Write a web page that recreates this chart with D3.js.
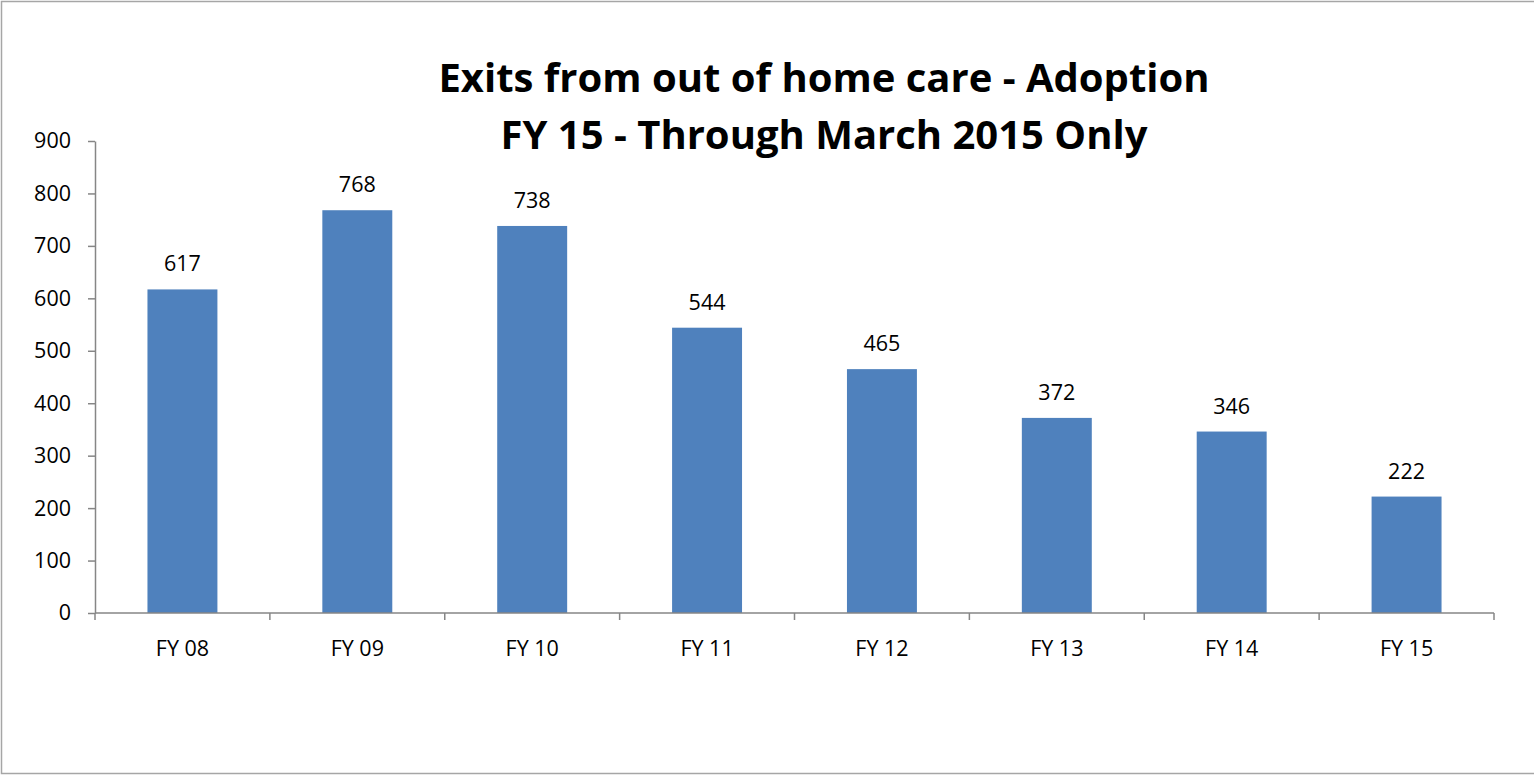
<!DOCTYPE html>
<html>
<head>
<meta charset="utf-8">
<script src="https://cdn.jsdelivr.net/npm/d3@7"></script>
<style>
  html, body { margin: 0; padding: 0; background: #fff; }
  svg text { font-family: "Open Sans", "Noto Sans", sans-serif; }
</style>
</head>
<body>
<div id="chart"></div>
<script>
// 数据
const categories = ["FY 08", "FY 09", "FY 10", "FY 11", "FY 12", "FY 13", "FY 14", "FY 15"];
const values = [617, 768, 738, 544, 465, 372, 346, 222];
const yTicks = [0, 100, 200, 300, 400, 500, 600, 700, 800, 900];
const titleLines = ["Exits from out of home care - Adoption", "FY 15 - Through March 2015 Only"];

const width = 1534;
const height = 775;
const margin = { left: 95, right: 40, top: 141, bottom: 162 };
const labelSize = 21.5;

const svg = d3.select("#chart")
    .append("svg")
    .attr("width", width)
    .attr("height", height);

// 外框
svg.append("rect")
    .attr("x", 1.5).attr("y", 1.5)
    .attr("width", width + 10).attr("height", height - 3)
    .attr("fill", "none")
    .attr("stroke", "#a6a6a6")
    .attr("stroke-width", 1.5);

const x = d3.scaleBand()
    .domain(categories)
    .range([margin.left, 1494])
    .paddingInner(0.6)
    .paddingOuter(0.3);

const y = d3.scaleLinear()
    .domain([0, 900])
    .range([613, margin.top]);

// 柱子
svg.append("g")
    .selectAll("rect")
    .data(values)
    .enter()
    .append("rect")
    .attr("x", (d, i) => x(categories[i]))
    .attr("y", d => y(d))
    .attr("width", x.bandwidth())
    .attr("height", d => y(0) - y(d))
    .attr("fill", "#4f81bd");

// 数值标签
svg.append("g")
    .selectAll("text")
    .data(values)
    .enter()
    .append("text")
    .attr("x", (d, i) => x(categories[i]) + x.bandwidth() / 2)
    .attr("y", d => y(d) - 18)
    .attr("text-anchor", "middle")
    .attr("font-size", labelSize)
    .attr("fill", "#000")
    .text(d => d);

// Y轴
const yAxis = svg.append("g")
    .attr("transform", `translate(${margin.left},0)`)
    .call(d3.axisLeft(y).tickValues(yTicks).tickSize(7).tickSizeOuter(0).tickPadding(17));
yAxis.selectAll("text").attr("font-size", labelSize).attr("fill", "#000")
    .style("font-family", "'Open Sans', 'Noto Sans', sans-serif");
yAxis.selectAll("line").attr("stroke", "#868686").attr("stroke-width", 1.5);
yAxis.select(".domain").attr("stroke", "#868686").attr("stroke-width", 1.5);

// X轴（刻度在类别边界）
const xEdge = d3.scaleLinear().domain([0, categories.length]).range([margin.left, 1494]);
const xAxisG = svg.append("g").attr("transform", `translate(0,${y(0)})`);
xAxisG.append("line")
    .attr("x1", margin.left).attr("x2", 1494)
    .attr("stroke", "#868686").attr("stroke-width", 1.5);
xAxisG.selectAll("line.tick")
    .data(d3.range(categories.length + 1))
    .enter()
    .append("line")
    .attr("class", "tick")
    .attr("x1", d => xEdge(d)).attr("x2", d => xEdge(d))
    .attr("y1", 0).attr("y2", 7)
    .attr("stroke", "#868686").attr("stroke-width", 1.5);
xAxisG.selectAll("text")
    .data(categories)
    .enter()
    .append("text")
    .attr("x", d => x(d) + x.bandwidth() / 2)
    .attr("y", 43)
    .attr("text-anchor", "middle")
    .attr("font-size", labelSize)
    .attr("fill", "#000")
    .text(d => d);

// 标题
svg.append("g")
    .selectAll("text")
    .data(titleLines)
    .enter()
    .append("text")
    .attr("x", 824)
    .attr("y", (d, i) => 92 + i * 57)
    .attr("text-anchor", "middle")
    .attr("font-size", 40)
    .attr("font-weight", "bold")
    .attr("fill", "#000")
    .text(d => d);
</script>
</body>
</html>
